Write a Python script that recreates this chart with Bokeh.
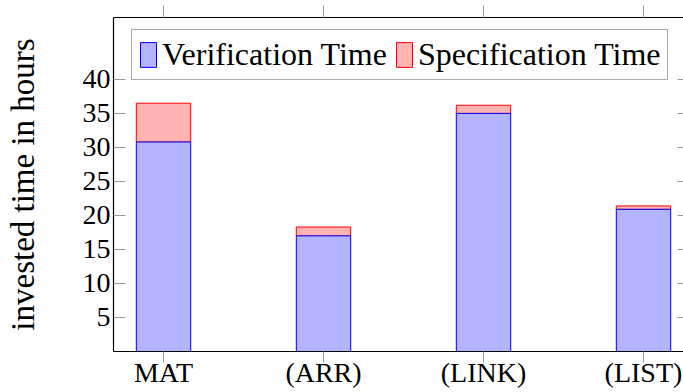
from bokeh.plotting import figure
from bokeh.models import (ColumnDataSource, FixedTicker, LinearAxis, Legend,
                          LegendItem, Range1d, CustomLabelingPolicy)
from bokeh.embed import file_html
from bokeh.resources import INLINE

categories = ["MAT", "(ARR)", "(LINK)", "(LIST)"]
verification_time = [30.8, 17.0, 35.0, 20.9]
specification_time = [5.7, 1.3, 1.2, 0.5]
y_ticks = [5, 10, 15, 20, 25, 30, 35, 40]

x = list(range(len(categories)))
totals = [v + s for v, s in zip(verification_time, specification_time)]
src = ColumnDataSource(dict(x=x, ver=verification_time, total=totals))

FONT = "Liberation Serif"

p = figure(width=683, height=392, output_backend="svg", toolbar_location=None,
           x_range=Range1d(-0.3125, 3.25), y_range=Range1d(0, 49.1),
           x_axis_location=None, y_axis_location=None,
           min_border_left=113, min_border_right=0,
           min_border_top=17, min_border_bottom=41)
p.outline_line_color = None
p.grid.visible = False
p.background_fill_color = "white"
p.border_fill_color = "white"

no_labels = CustomLabelingPolicy(code="""
    for (const i of indices) { indices.unset(i) }
    return indices
""")

# left axis
left = LinearAxis(ticker=FixedTicker(ticks=y_ticks), axis_label="invested time in hours")
left.major_tick_in = 12
left.major_tick_out = 0
left.major_tick_line_color = "#999999"
left.minor_tick_line_color = None
left.axis_line_color = "black"
left.axis_line_width = 1.2
left.major_label_standoff = 3
left.major_label_text_font = FONT
left.major_label_text_font_size = "28px"
left.major_label_text_color = "black"
left.axis_label_text_font = FONT
left.axis_label_text_font_size = "33px"
left.axis_label_text_font_style = "normal"
left.axis_label_text_color = "black"
left.axis_label_standoff = 39
p.add_layout(left, "left")

# bottom axis
bottom = LinearAxis(ticker=FixedTicker(ticks=x),
                    major_label_overrides={i: c for i, c in zip(x, categories)})
bottom.major_tick_in = 0
bottom.major_tick_out = 11
bottom.major_tick_line_color = "#999999"
bottom.minor_tick_line_color = None
bottom.axis_line_color = "black"
bottom.axis_line_width = 1.2
bottom.major_label_standoff = -6
bottom.major_label_text_font = FONT
bottom.major_label_text_font_size = "28px"
bottom.major_label_text_color = "black"
p.add_layout(bottom, "below")

# top axis (ticks only)
top = LinearAxis(ticker=FixedTicker(ticks=x), major_label_policy=no_labels)
top.major_tick_in = 0
top.major_tick_out = 12
top.major_tick_line_color = "#999999"
top.minor_tick_line_color = None
top.axis_line_color = "black"
top.axis_line_width = 1.2
top.major_label_standoff = 0
top.major_label_text_font_size = "0px"
p.add_layout(top, "above")

# right axis (ticks only)
right = LinearAxis(ticker=FixedTicker(ticks=y_ticks), major_label_policy=no_labels)
right.major_tick_in = 6
right.major_tick_out = 0
right.major_tick_line_color = "#999999"
right.minor_tick_line_color = None
right.axis_line_color = None
right.major_label_standoff = 0
right.major_label_text_font_size = "0px"
p.add_layout(right, "right")

red = p.vbar(x="x", bottom="ver", top="total", width=0.34, source=src,
             fill_color="#FFB3B3", line_color="#FF0000", line_width=1)
blue = p.vbar(x="x", bottom=0, top="ver", width=0.34, source=src,
              fill_color="#B3B3FF", line_color="#0000FF", line_width=1)

legend = Legend(items=[LegendItem(label="Verification Time", renderers=[blue]),
                       LegendItem(label="Specification Time", renderers=[red])],
                location=(18, 271), orientation="horizontal")
legend.glyph_width = 20
legend.glyph_height = 31
legend.label_standoff = 4
legend.spacing = 7
legend.padding = 6
legend.margin = 0
legend.label_text_font = FONT
legend.label_text_font_size = "32px"
legend.label_text_color = "black"
legend.border_line_color = "#555555"
legend.border_line_width = 1.5
legend.background_fill_color = "white"
legend.background_fill_alpha = 1
p.add_layout(legend)

open("out.html", "w").write(file_html(p, INLINE))
